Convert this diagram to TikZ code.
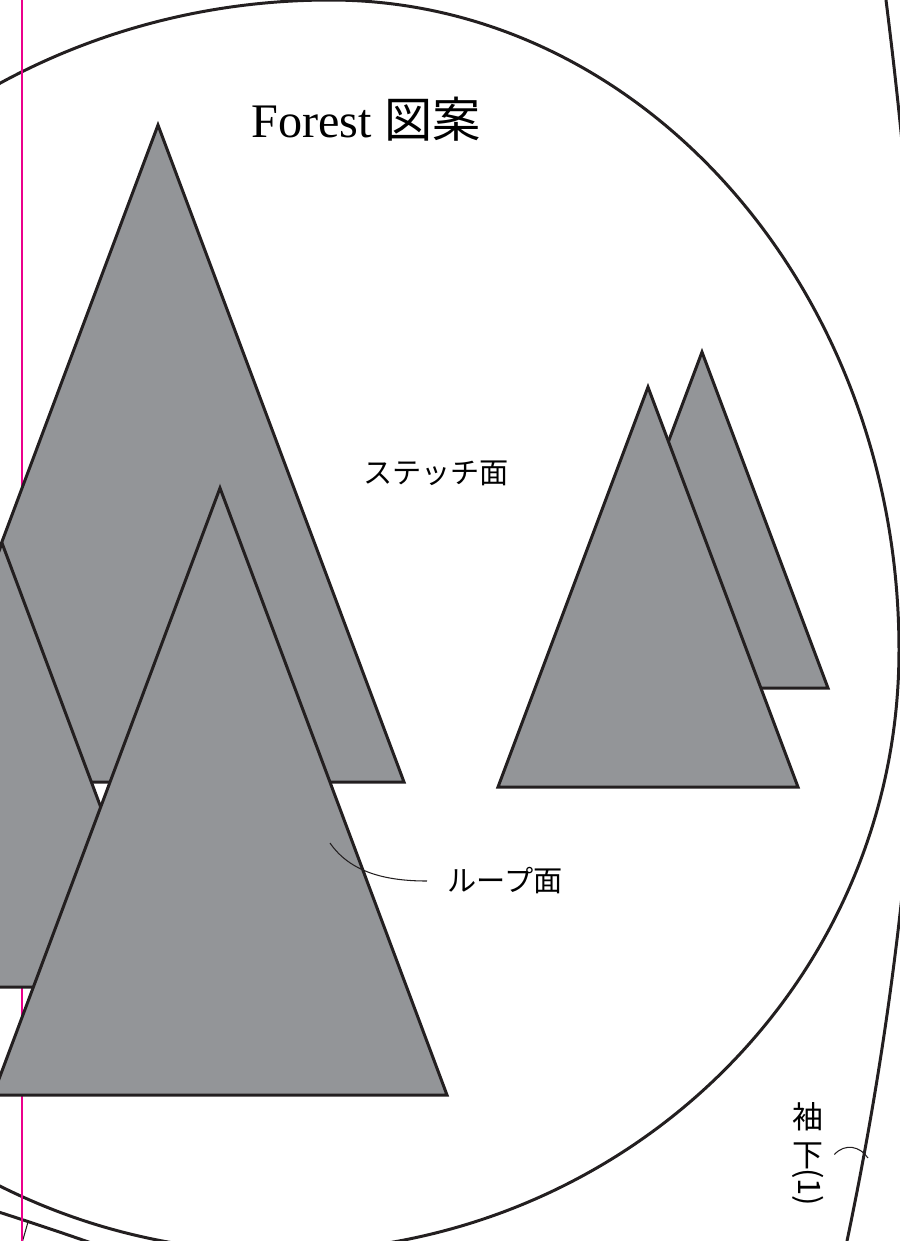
\documentclass[tikz,border=0pt]{standalone}
\usepackage{fontspec}
\usepackage{graphicx}
\usepackage{xcolor}
\usepackage{tikz}
\setmainfont{Liberation Serif}
\newfontfamily\jpfont{Noto Sans CJK JP}
\definecolor{patgray}{RGB}{147,149,152}
\definecolor{ink}{RGB}{35,31,32}
\definecolor{guidemagenta}{RGB}{236,0,140}

\begin{document}
\begin{tikzpicture}[x=0.01cm, y=-0.01cm,
    outline/.style={draw=ink, line width=0.85pt},
    treeshape/.style={draw=ink, fill=patgray, line width=0.85pt},
    leader/.style={draw=ink, line width=0.3pt},
    guide/.style={draw=guidemagenta, line width=0.55pt},
    lbl/.style={font=\jpfont\fontsize{8.3}{10}\selectfont, inner sep=0pt}]
    \useasboundingbox (0,0) rectangle (900,1241);
    \clip (0,0) rectangle (900,1241);
    % pattern outline
    \draw[outline] (-340,640) .. controls (-340,288) and (-40,0) .. (330,0)
        .. controls (644,0) and (899,292) .. (899,650)
        .. controls (899,985) and (622,1252) .. (280,1252)
        .. controls (-62,1252) and (-340,978) .. cycle;
    \draw[outline] (886,0) .. controls (930,350) and (950,750) .. (847,1241);
    \draw[outline] (-20,1206) .. controls (30,1222) and (60,1232) .. (100,1246);
    \draw[leader] (28,1222) -- (22,1243);
    \draw[guide] (22,0) -- (22,1241);
    % trees
    \foreach \ax/\ay/\hw/\by in {158/125/246/782, 2/543/166/987, 220/488/227/1095,
                                 702/352/126/688, 648/387/150/787}
        \draw[treeshape] (\ax,\ay) -- (\ax+\hw,\by) -- (\ax-\hw,\by) -- cycle;
    % labels
    \node[inner sep=0pt, anchor=base, font=\fontsize{13.7}{16}\selectfont] (title) at (366,137) {Forest {\jpfont 図案}};
    \node[lbl] (stitch) at (436,473) {ステッチ面};
    \node[lbl, inner xsep=0.2cm, anchor=west] (loop) at (427,881) {ループ面};
    \coordinate (loopend) at (330,843);
    \draw[leader] (loopend) .. controls (350,872) and (385,881) .. (loop.west);
    \node[lbl, inner xsep=0.1cm, align=center, anchor=north, font=\jpfont\fontsize{8.8}{10.8}\selectfont] (sode) at (808,1102)
        {袖\\下\\[-10.4pt]\rotatebox{-90}{(1)}};
    \coordinate (sodeend) at (868,1158);
    \draw[leader] (sode.east) .. controls (845,1143) and (860,1146) .. (sodeend);
\end{tikzpicture}
\end{document}
